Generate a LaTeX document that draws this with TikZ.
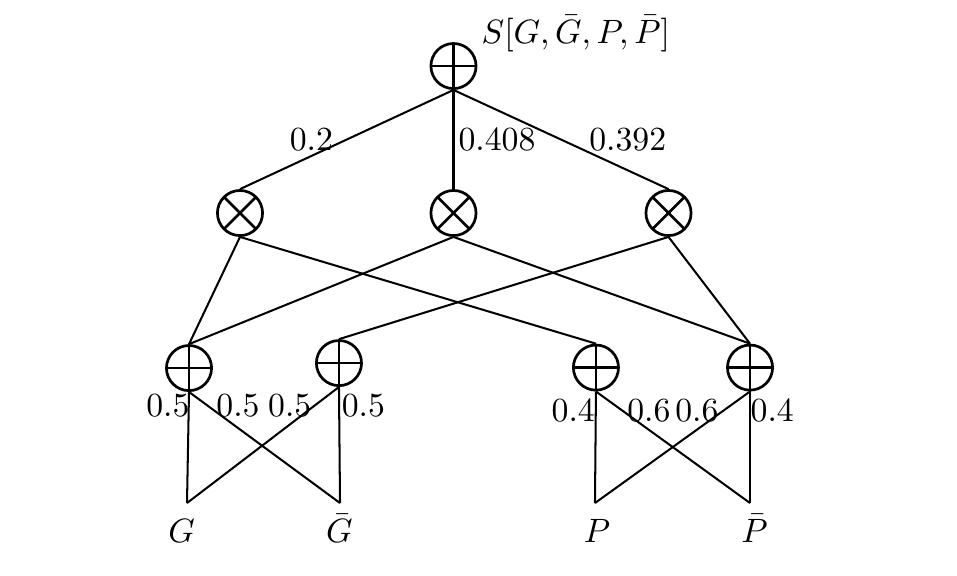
\documentclass[tikz,border=0pt]{standalone}
\usepackage{amsmath,amssymb}
\usepackage{tikz}
\usetikzlibrary{positioning}
\tikzset{
    sum_node/.style={circle, draw, thick, minimum size=0.47cm, inner sep=0pt, path picture={\draw[thick] (path picture bounding box.north) -- (path picture bounding box.south) (path picture bounding box.west) -- (path picture bounding box.east);}},
    prod_node/.style={circle, draw, thick, minimum size=0.47cm, inner sep=0pt, path picture={\draw[thick] (path picture bounding box.north west) -- (path picture bounding box.south east) (path picture bounding box.south west) -- (path picture bounding box.north east);}},
    link/.style={semithick}
}

\begin{document}
\begin{tikzpicture}
            \tikzstyle{weight}=[inner sep=0.5pt]
            \tikzstyle{leaf}=[inner sep=0pt, anchor=base]
            \useasboundingbox (0,0) rectangle (9.969,5.990);

            % Root sum
            \node (root) [sum_node] at (4.724,5.302) {};
            \node (root_lbl) [inner sep=0pt, anchor=base west] at (5.01,5.542) {$S[G,\bar{G},P,\bar{P}]$};

            % Product layer
            \node (prod_0) [prod_node] at (2.500,3.771) {};
            \node (prod_1) [prod_node] at (4.724,3.771) {};
            \node (prod_2) [prod_node] at (6.964,3.771) {};
            \draw [link] (root.south) -- node[weight, pos=0.5, left=3.3pt] {0.2} (prod_0.north);
            \draw [link] (root.south) -- node[weight, pos=0.5, right=0.7pt] {0.408} (prod_1.north);
            \draw [link] (root.south) -- node[weight, pos=0.5, right=7.6pt] {0.392} (prod_2.north);

            % Sum layer
            \node (sum_0) [sum_node] at (1.969,2.156) {};
            \node (sum_1) [sum_node] at (3.531,2.208) {};
            \node (sum_2) [sum_node] at (6.208,2.161) {};
            \node (sum_3) [sum_node] at (7.813,2.161) {};
            \draw [link] (prod_0.south) -- (sum_0.north);
            \draw [link] (prod_0.south) -- (sum_2.north);
            \draw [link] (prod_1.south) -- (sum_0.north);
            \draw [link] (prod_1.south) -- (sum_3.north);
            \draw [link] (prod_2.south) -- (sum_1.north);
            \draw [link] (prod_2.south) -- (sum_3.north);

            % Leaves
            \coordinate (g) at (1.948,0.750);
            \coordinate (g_bar) at (3.542,0.750);
            \coordinate (p) at (6.198,0.750);
            \coordinate (p_bar) at (7.813,0.750);
            \node (g_lbl) [leaf] at (1.891,0.34) {$G$};
            \node (g_bar_lbl) [leaf] at (3.536,0.34) {$\bar{G}$};
            \node (p_lbl) [leaf] at (6.219,0.34) {$P$};
            \node (p_bar_lbl) [leaf] at (7.860,0.34) {$\bar{P}$};

            \draw [link] (sum_0.south) -- node[weight, pos=0.126, left=-1pt] {0.5} (g);
            \draw [link] (sum_0.south) -- node[weight, pos=0.126, right=1.7pt] {0.5} (g_bar);
            \draw [link] (sum_1.south) -- node[weight, pos=0.164, left=0pt] {0.5} (g);
            \draw [link] (sum_1.south) -- node[weight, pos=0.164, right=0pt] {0.5} (g_bar);
            \draw [link] (sum_2.south) -- node[weight, pos=0.171, left=-0.5pt] {0.4} (p);
            \draw [link] (sum_2.south) -- node[weight, pos=0.171, right=0.7pt] {0.6} (p_bar);
            \draw [link] (sum_3.south) -- node[weight, pos=0.171, left=0.7pt] {0.6} (p);
            \draw [link] (sum_3.south) -- node[weight, pos=0.171, right=-0.6pt] {0.4} (p_bar);
\end{tikzpicture}
\end{document}
